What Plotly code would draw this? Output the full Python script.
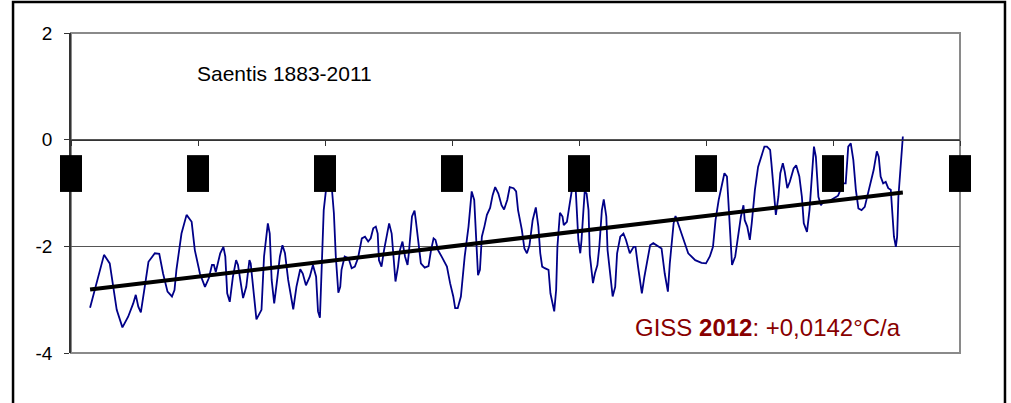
import plotly.graph_objects as go

# Saentis temperature (smoothed)
years = [
    1883.0, 1884.6, 1885.2, 1886.1, 1886.4, 1887.2, 1888.1, 1889.0, 1889.8, 1890.2,
    1890.6, 1891.0, 1891.7, 1892.2, 1893.2, 1893.9, 1894.5, 1895.2, 1895.9, 1896.3,
    1896.6, 1897.4, 1898.2, 1899.0, 1899.5, 1900.3, 1901.1, 1901.7, 1902.2, 1902.5,
    1902.8, 1903.5, 1904.0, 1904.3, 1904.6, 1905.0, 1905.5, 1906.0, 1906.3, 1906.7,
    1907.1, 1907.6, 1908.1, 1908.3, 1908.6, 1909.2, 1910.0, 1910.4, 1911.0, 1911.3,
    1911.6, 1912.0, 1912.4, 1912.9, 1913.3, 1913.7, 1914.2, 1915.0, 1915.5, 1916.1,
    1916.5, 1917.0, 1917.6, 1918.1, 1918.6, 1918.9, 1919.2, 1919.5, 1919.8, 1920.3,
    1920.55, 1921.1, 1921.4, 1921.7, 1922.1, 1922.4, 1922.6, 1923.1, 1923.7, 1924.2,
    1924.7, 1925.2, 1925.8, 1926.3, 1926.8, 1927.2, 1927.6, 1928.0, 1928.3, 1928.5,
    1928.9, 1929.3, 1929.7, 1930.1, 1930.5, 1930.8, 1931.1, 1931.5, 1931.8, 1932.2,
    1932.6, 1933.0, 1933.2, 1933.7, 1934.1, 1934.3, 1934.7, 1935.1, 1935.7, 1936.3,
    1936.7, 1937.1, 1937.4, 1937.8, 1938.5, 1939.2, 1939.7, 1940.2, 1940.5, 1940.9,
    1941.4, 1942.0, 1942.6, 1943.1, 1943.5, 1943.7, 1944.1, 1944.4, 1944.7, 1945.1,
    1945.5, 1946.0, 1946.4, 1946.8, 1947.3, 1947.8, 1948.2, 1948.7, 1949.1, 1949.7,
    1950.1, 1950.4, 1951.0, 1951.4, 1951.8, 1952.2, 1952.7, 1953.2, 1953.6, 1953.9,
    1954.2, 1954.6, 1955.2, 1955.5, 1956.1, 1956.4, 1956.6, 1957.0, 1957.4, 1957.6,
    1958.1, 1958.5, 1958.9, 1959.2, 1959.5, 1959.7, 1959.9, 1960.2, 1960.4, 1960.7,
    1960.9, 1961.2, 1961.5, 1961.7, 1962.2, 1962.5, 1962.9, 1963.2, 1963.6, 1963.9,
    1964.3, 1964.5, 1964.9, 1965.3, 1965.7, 1966.0, 1966.5, 1967.0, 1967.4, 1967.8,
    1968.0, 1968.6, 1968.9, 1969.3, 1969.6, 1969.9, 1970.3, 1970.7, 1971.2, 1971.7,
    1972.5, 1973.0, 1973.5, 1974.0, 1974.3, 1974.9, 1975.2, 1975.6, 1976.4, 1977.2,
    1978.3, 1979.3, 1980.0, 1980.6, 1981.1, 1981.5, 1982.0, 1982.5, 1982.9, 1983.3,
    1983.5, 1983.8, 1984.1, 1984.6, 1985.0, 1985.5, 1985.9, 1986.1, 1986.5, 1986.9,
    1987.2, 1987.7, 1988.2, 1988.8, 1989.2, 1989.6, 1990.1, 1990.3, 1990.6, 1991.0,
    1991.4, 1991.7, 1992.1, 1992.4, 1992.8, 1993.2, 1993.8, 1994.2, 1994.7, 1995.1,
    1995.4, 1995.9, 1996.3, 1996.7, 1997.0, 1997.3, 1997.7, 1998.1, 1998.5, 1999.4,
    2000.8, 2001.6, 2002.0, 2002.4, 2002.8, 2003.2, 2003.6, 2004.0, 2004.5, 2005.0,
    2005.7, 2006.4, 2006.9, 2007.2, 2007.5, 2007.9, 2008.3, 2008.7, 2009.1, 2009.4,
    2009.6, 2009.9, 2010.1, 2010.3, 2010.6, 2011.0,
]
temps = [
    -3.15, -2.44, -2.16, -2.32, -2.57, -3.19, -3.52, -3.32, -3.07, -2.91,
    -3.13, -3.24, -2.69, -2.29, -2.13, -2.14, -2.51, -2.85, -2.94, -2.82,
    -2.44, -1.76, -1.41, -1.54, -2.07, -2.51, -2.76, -2.60, -2.35, -2.35,
    -2.48, -2.13, -2.01, -2.19, -2.88, -3.04, -2.57, -2.26, -2.35, -2.63,
    -2.97, -2.76, -2.26, -2.32, -2.69, -3.37, -3.19, -2.19, -1.57, -1.76,
    -2.63, -3.07, -2.69, -2.19, -1.98, -2.13, -2.63, -3.18, -2.76, -2.43,
    -2.51, -2.73, -2.57, -2.35, -2.57, -3.22, -3.34, -2.32, -1.32, -0.79,
    -0.55, -0.94, -1.38, -2.19, -2.87, -2.76, -2.44, -2.19, -2.22, -2.41,
    -2.38, -2.22, -1.85, -1.82, -1.91, -1.85, -1.66, -1.63, -1.76, -2.26,
    -2.38, -2.07, -1.82, -1.57, -1.76, -2.19, -2.66, -2.38, -2.07, -1.91,
    -2.19, -2.35, -2.13, -1.44, -1.33, -1.51, -1.94, -2.32, -2.40, -2.37,
    -2.07, -1.85, -1.88, -2.07, -2.22, -2.38, -2.69, -2.94, -3.16, -3.16,
    -2.94, -2.19, -1.63, -0.97, -1.13, -1.69, -2.54, -2.44, -1.82, -1.63,
    -1.41, -1.28, -1.04, -0.89, -1.01, -1.23, -1.31, -1.13, -0.89, -0.91,
    -0.97, -1.32, -1.69, -2.04, -2.13, -1.98, -1.51, -1.27, -1.63, -2.13,
    -2.38, -2.41, -2.44, -2.88, -3.22, -2.82, -2.01, -1.37, -1.44, -1.60,
    -1.54, -1.23, -0.97, -0.70, -0.97, -1.38, -1.88, -2.13, -1.88, -1.32,
    -0.97, -1.01, -1.32, -2.16, -2.69, -2.51, -2.35, -2.01, -1.32, -1.12,
    -1.44, -2.07, -2.51, -2.94, -2.76, -2.13, -1.82, -1.76, -1.88, -2.07,
    -2.13, -2.01, -2.01, -2.38, -2.69, -2.88, -2.57, -2.32, -1.98, -1.94,
    -2.01, -2.04, -2.51, -2.85, -2.32, -1.57, -1.43, -1.57, -1.88, -2.13,
    -2.26, -2.31, -2.32, -2.19, -2.01, -1.51, -1.13, -0.85, -0.63, -0.69,
    -1.07, -1.69, -2.35, -2.19, -1.82, -1.44, -1.23, -1.51, -1.63, -1.88,
    -1.57, -0.94, -0.51, -0.26, -0.13, -0.13, -0.19, -0.44, -0.94, -1.41,
    -1.07, -0.63, -0.44, -0.60, -0.91, -0.79, -0.54, -0.48, -0.69, -1.07,
    -1.57, -1.73, -1.32, -0.63, -0.13, -0.32, -1.07, -1.23, -1.16, -1.15,
    -1.05, -0.82, -0.82, -0.13, -0.07, -0.38, -0.94, -1.29, -1.32, -1.26,
    -0.94, -0.57, -0.22, -0.32, -0.69, -0.82, -0.79, -0.91, -0.94, -1.44,
    -1.82, -2.01, -1.82, -1.07, -0.51, 0.06,
]

# linear trend (+0.0142 °C/a)
trend_years = [1883, 2011]
trend_temps = [-2.81, -0.99]

x_ticks = [1880, 1900, 1920, 1940, 1960, 1980, 2000, 2020]
y_ticks = [-4, -2, 0, 2]
y_tick_text = ['-4', '-2', '0', '2']

x_min, x_max = 1880, 2020
y_min, y_max = -4, 2

fig = go.Figure()
fig.add_trace(go.Scatter(x=years, y=temps, mode='lines',
                         line={'color': '#000088', 'width': 1.8}, showlegend=False))
fig.add_trace(go.Scatter(x=trend_years, y=trend_temps, mode='lines',
                         line={'color': 'black', 'width': 4}, showlegend=False))

# plot area border (Excel style, grey)
fig.add_shape(type='rect', xref='paper', yref='paper', x0=0, x1=1, y0=0, y1=1,
              line={'color': '#8a8a8a', 'width': 2}, layer='below')
# outer black frame (bottom edge lies below the picture)
fig.add_shape(type='rect', xref='paper', yref='paper', x0=-0.0652, x1=1.0506, y0=-0.3, y1=1.097,
              line={'color': 'black', 'width': 2.5})

# black boxes hiding the x tick labels
for t in x_ticks:
    xc = (t - x_min) / (x_max - x_min)
    fig.add_shape(type='rect', xref='paper', yref='paper',
                  x0=xc - 0.0124, x1=xc + 0.0124,
                  y0=(-0.98 - y_min) / (y_max - y_min), y1=(-0.29 - y_min) / (y_max - y_min),
                  fillcolor='black', line={'width': 0}, layer='above')

fig.add_annotation(text='Saentis 1883-2011', xref='paper', yref='paper', x=0.1395, y=0.875,
                   xanchor='left', yanchor='middle', showarrow=False,
                   font={'family': 'Liberation Sans, Arial', 'size': 21, 'color': 'black'})
fig.add_annotation(text='GISS <b>2012</b>: +0,0142°C/a', xref='paper', yref='paper', x=0.632, y=0.081,
                   xanchor='left', yanchor='middle', showarrow=False,
                   font={'family': 'Liberation Sans, Arial', 'size': 24, 'color': '#880000'})

fig.update_xaxes(range=[x_min, x_max], tickvals=x_ticks, showticklabels=False,
                 anchor='free', position=(0 - y_min) / (y_max - y_min), automargin=False,
                 ticks='outside', ticklen=5, tickcolor='#333333', showline=True,
                 linecolor='#333333', linewidth=1, showgrid=False, zeroline=False)
fig.update_yaxes(range=[y_min, y_max], tickvals=y_ticks, ticktext=y_tick_text, automargin=False,
                 ticks='outside', ticklen=5,
                 tickcolor='#333333', showline=True, linecolor='#333333', linewidth=1.5,
                 gridcolor='#555555', gridwidth=1, zeroline=False, ticklabelstandoff=8,
                 tickfont={'family': 'Liberation Sans, Arial', 'size': 19, 'color': 'black'})

fig.update_layout(width=1011, height=403, margin={'l': 71, 'r': 51, 't': 33, 'b': 50},
                  plot_bgcolor='white', paper_bgcolor='white')
# drop the default page margin so the figure fills the window
fig.write_html('out.html', config={'displayModeBar': False},
               post_script="document.body.style.margin = '0';")
